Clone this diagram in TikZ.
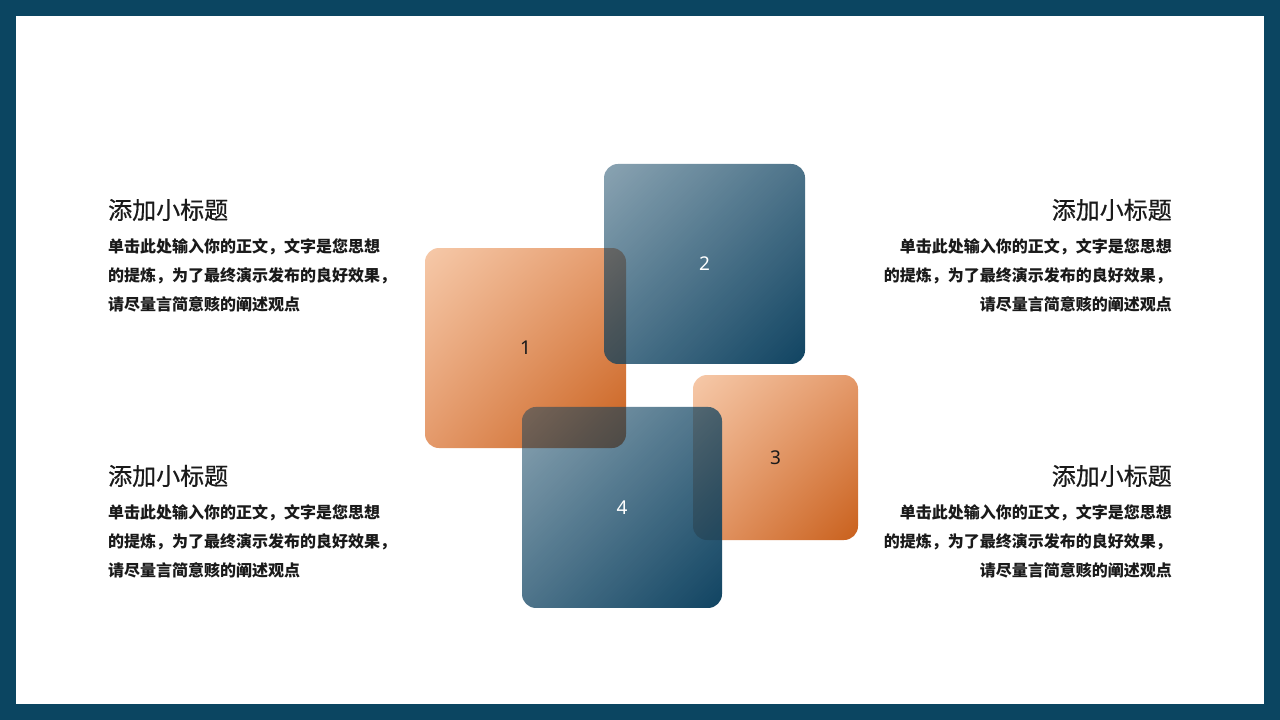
\documentclass[tikz,border=0pt]{standalone}
\usepackage{fontspec}
\newfontfamily\cjk{Noto Sans CJK SC}
\newfontfamily\cjkhead[FakeBold=0.6]{Noto Sans CJK SC}
\setsansfont{Noto Sans}
\usetikzlibrary{shadings,fadings}

\definecolor{framecol}{HTML}{0B4561}
\definecolor{orangelight}{HTML}{F6C9A9}
\definecolor{orangemid}{HTML}{E4996A}
\definecolor{orangedark}{HTML}{C9601C}
\definecolor{bluedark}{HTML}{0A3F5E}
\definecolor{textdark}{HTML}{1A1A1A}

\tikzfading[name=cardfade, upper left=transparent!50, upper right=transparent!25,
    lower left=transparent!25, lower right=transparent!0]

\tikzset{
    card/.style={rounded corners=14pt, draw=none, inner sep=0pt},
    orangecard/.style={card, shade, upper left=orangelight, upper right=orangemid,
        lower left=orangemid, lower right=orangedark},
    bluecard/.style={card, fill=bluedark, path fading=cardfade},
    number/.style={font=\sffamily\fontsize{19}{19}\selectfont},
    heading/.style={font=\cjkhead\fontsize{24}{24}\selectfont, text=textdark, inner sep=0pt},
    body/.style={font=\cjk\bfseries\fontsize{16}{29}\selectfont, text=textdark, inner sep=0pt},
}

\begin{document}
\begin{tikzpicture}[x=1pt, y=-1pt]
    % frame
    \fill[framecol] (0,0) rectangle (1280,720);
    \fill[white] (16,16) rectangle (1264,704);
    \useasboundingbox (0,0) rectangle (1280,720);

    % cards
    \node[orangecard, minimum width=201pt, minimum height=200pt] (box1) at (525.5,348) {};
    \node[orangecard, minimum width=165pt, minimum height=165pt] (box3) at (775.5,457.5) {};
    \node[bluecard, minimum width=201pt, minimum height=200pt] (box2) at (704.5,264) {};
    \node[bluecard, minimum width=200pt, minimum height=201pt] (box4) at (622,507.5) {};

    \node[number, text=textdark] (num1) at (box1) {1};
    \node[number, text=white] (num2) at (box2) {2};
    \node[number, text=textdark] (num3) at (box3) {3};
    \node[number, text=white] (num4) at (box4) {4};

    % left texts
    \node[heading, anchor=base west] (titleA) at (108,219) {添加小标题};
    \node[body, anchor=base west, align=left] (textA) at (108,310)
        {单击此处输入你的正文，文字是您思想\\的提炼，为了最终演示发布的良好效果，\\请尽量言简意赅的阐述观点};
    \node[heading, anchor=base west] (titleC) at (108,485) {添加小标题};
    \node[body, anchor=base west, align=left] (textC) at (108,576)
        {单击此处输入你的正文，文字是您思想\\的提炼，为了最终演示发布的良好效果，\\请尽量言简意赅的阐述观点};

    % right texts
    \node[heading, anchor=base east] (titleB) at (1172,219) {添加小标题};
    \node[body, anchor=base east, align=right] (textB) at (1172,310)
        {单击此处输入你的正文，文字是您思想\\的提炼，为了最终演示发布的良好效果，\\请尽量言简意赅的阐述观点};
    \node[heading, anchor=base east] (titleD) at (1172,485) {添加小标题};
    \node[body, anchor=base east, align=right] (textD) at (1172,576)
        {单击此处输入你的正文，文字是您思想\\的提炼，为了最终演示发布的良好效果，\\请尽量言简意赅的阐述观点};
\end{tikzpicture}
\end{document}
